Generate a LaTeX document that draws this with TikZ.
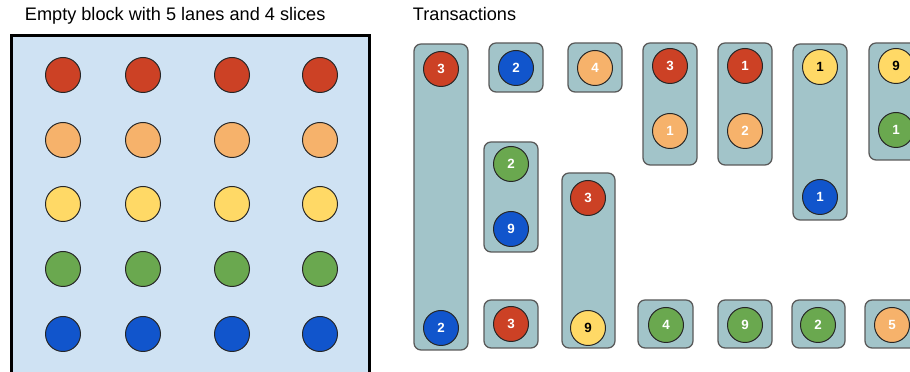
\documentclass[tikz,border=0pt]{standalone}
\usepackage{fontspec}
\setmainfont{Liberation Sans}
\definecolor{lanered}{HTML}{CC4125}
\definecolor{laneorange}{HTML}{F6B26B}
\definecolor{laneyellow}{HTML}{FFD966}
\definecolor{lanegreen}{HTML}{6AA84F}
\definecolor{laneblue}{HTML}{1155CC}
\definecolor{blockfill}{HTML}{CFE2F3}
\definecolor{txfill}{HTML}{A2C4C9}
\definecolor{txline}{HTML}{595959}
\begin{document}
\begin{tikzpicture}[x=0.025cm,y=-0.025cm,
  ball/.style={circle,draw=black!85,line width=0.7pt,fill=#1,minimum size=0.875cm,
    inner sep=0pt,text=white,font=\fontsize{9.5}{9.5}\selectfont\bfseries},
  dark/.style={text=black},
  txbox/.style={draw=txline,fill=txfill,line width=0.9pt,rounded corners=5pt},
  title/.style={anchor=base west,font=\fontsize{12.9}{15}\selectfont}]
\useasboundingbox (0,0) rectangle (910,372);
\clip (0,0) rectangle (910,372);
% the empty block
\node[title] (blocktitle) at (20,21) {Empty block with 5 lanes and 4 slices};
\draw[line width=2.5pt,fill=blockfill] (11.5,35.5) rectangle (369.5,390);
\foreach \x [count=\s] in {63,143,232,320}
  \foreach \y/\c [count=\l] in {75/lanered,140/laneorange,204/laneyellow,269/lanegreen,334/laneblue}
    \node[ball=\c] (s\s l\l) at (\x,\y) {};
% transactions
\node[title] (txtitle) at (408,21) {Transactions};
\draw[txbox] (414,44) rectangle (468,350);
\node[ball=lanered] (t1a) at (441,69) {3};
\node[ball=laneblue] (t1b) at (441,328) {2};
\draw[txbox] (489,43) rectangle (543,92);
\node[ball=laneblue] (t2a) at (516,68) {2};
\draw[txbox] (568,43) rectangle (622,92);
\node[ball=laneorange] (t3a) at (595,68) {4};
\draw[txbox] (484,142) rectangle (538,252);
\node[ball=lanegreen] (t4a) at (511,164) {2};
\node[ball=laneblue] (t4b) at (511,229) {9};
\draw[txbox] (562,173) rectangle (615,348);
\node[ball=lanered] (t5a) at (588,198) {3};
\node[ball=laneyellow,dark] (t5b) at (588,328) {9};
\draw[txbox] (484,300) rectangle (538,348);
\node[ball=lanered] (t6a) at (511,324) {3};
\draw[txbox] (643,43) rectangle (697,165);
\node[ball=lanered] (t7a) at (670,66) {3};
\node[ball=laneorange] (t7b) at (670,131) {1};
\draw[txbox] (718,43) rectangle (772,165);
\node[ball=lanered] (t8a) at (745,66) {1};
\node[ball=laneorange] (t8b) at (745,131) {2};
\draw[txbox] (793,44) rectangle (847,220);
\node[ball=laneyellow,dark] (t9a) at (820,67) {1};
\node[ball=laneblue] (t9b) at (820,197) {1};
\draw[txbox] (869,43) rectangle (923,160);
\node[ball=laneyellow,dark] (t10a) at (896,66) {9};
\node[ball=lanegreen] (t10b) at (896,130) {1};
\draw[txbox] (638,300) rectangle (693,348);
\node[ball=lanegreen] (t11a) at (666,325) {4};
\draw[txbox] (718,300) rectangle (772,348);
\node[ball=lanegreen] (t12a) at (745,325) {9};
\draw[txbox] (792,300) rectangle (845,348);
\node[ball=lanegreen] (t13a) at (818,325) {2};
\draw[txbox] (865,300) rectangle (919,348);
\node[ball=laneorange] (t14a) at (892,325) {5};
\end{tikzpicture}
\end{document}
